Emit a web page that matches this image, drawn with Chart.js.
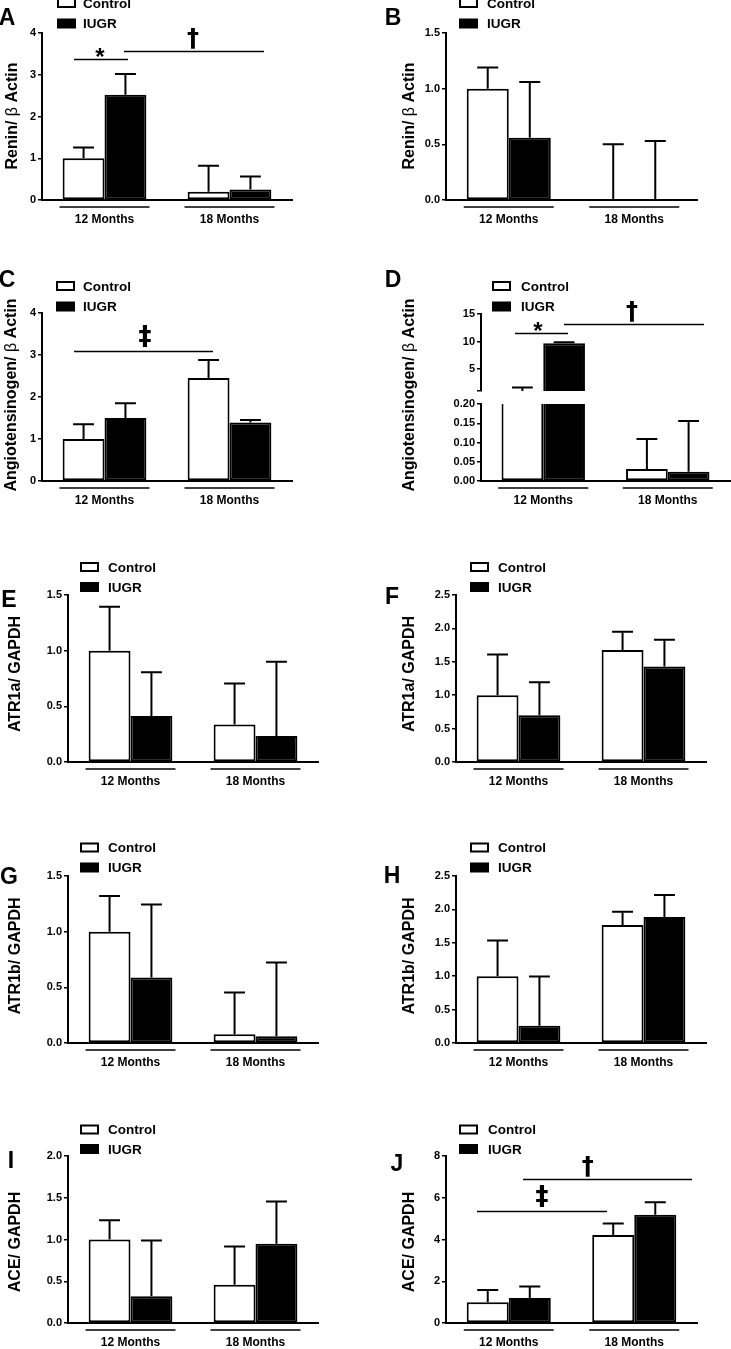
<!DOCTYPE html>
<html>
<head>
<meta charset="utf-8">
<script src="https://cdn.jsdelivr.net/npm/chart.js@4.4.1/dist/chart.umd.min.js"></script>
<style>
  html, body { margin: 0; padding: 0; background: #fff; }
  #page { position: relative; width: 731px; height: 1349px; overflow: hidden; background: #fff; }
  #page canvas { position: absolute; left: 0; top: 0; }
</style>
</head>
<body>
<div id="page"></div>
<script>
const months = ['12 Months', '18 Months'];
const series = ['Control', 'IUGR'];

// A - renin / beta actin (left)
const aControl = [1.0, 0.2];
const aControlSem = [0.26, 0.62];
const aIugr = [2.52, 0.25];
const aIugrSem = [0.5, 0.31];
const aTicks = ['0', '1', '2', '3', '4'];

// B - renin / beta actin (right)
const bControl = [1.0, 0.01];
const bControlSem = [0.19, 0.49];
const bIugr = [0.56, 0.01];
const bIugrSem = [0.5, 0.52];
const bTicks = ['0.0', '0.5', '1.0', '1.5'];

// C - angiotensinogen (left)
const cControl = [1.0, 2.45];
const cControlSem = [0.35, 0.43];
const cIugr = [1.5, 1.39];
const cIugrSem = [0.35, 0.06];
const cTicks = ['0', '1', '2', '3', '4'];

// D - angiotensinogen (right), broken axis
const dControl = [1.0, 0.031];
const dControlSem = [0.65, 0.078];
const dIugr = [9.7, 0.024];
const dIugrSem = [0.15, 0.132];
const dTopTicks = ['5', '10', '15'];
const dLowTicks = ['0.00', '0.05', '0.10', '0.15', '0.20'];

// E - ATR1a (left)
const eControl = [1.0, 0.336];
const eControlSem = [0.395, 0.37];
const eIugr = [0.414, 0.234];
const eIugrSem = [0.393, 0.666];
const eTicks = ['0.0', '0.5', '1.0', '1.5'];

// F - ATR1a (right)
const fControl = [1.0, 1.675];
const fControlSem = [0.61, 0.275];
const fIugr = [0.70, 1.43];
const fIugrSem = [0.495, 0.40];
const fTicks = ['0.0', '0.5', '1.0', '1.5', '2.0', '2.5'];

// G - ATR1b (left)
const gControl = [1.0, 0.078];
const gControlSem = [0.32, 0.375];
const gIugr = [0.588, 0.06];
const gIugrSem = [0.657, 0.663];
const gTicks = ['0.0', '0.5', '1.0', '1.5'];

// H - ATR1b (right)
const hControl = [1.0, 1.765];
const hControlSem = [0.535, 0.2];
const hIugr = [0.26, 1.885];
const hIugrSem = [0.735, 0.33];
const hTicks = ['0.0', '0.5', '1.0', '1.5', '2.0', '2.5'];

// I - ACE (left)
const iControl = [1.0, 0.458];
const iControlSem = [0.231, 0.458];
const iIugr = [0.319, 0.948];
const iIugrSem = [0.669, 0.506];
const iTicks = ['0.0', '0.5', '1.0', '1.5', '2.0'];

// J - ACE (right)
const jControl = [1.0, 4.22];
const jControlSem = [0.58, 0.545];
const jIugr = [1.195, 5.18];
const jIugrSem = [0.555, 0.605];
const jTicks = ['0', '2', '4', '6', '8'];

const W = 731, H = 1349;
const AXIS_W = 36; // room kept left of each y axis for its tick labels
const FONT = '"Liberation Sans", Arial, sans-serif';
Chart.defaults.font.family = FONT;
Chart.defaults.color = '#000';

function centerText(ctx, text, cx, cy) {
  ctx.textAlign = 'center';
  ctx.textBaseline = 'alphabetic';
  const m = ctx.measureText(text);
  ctx.fillText(text, cx, cy + (m.actualBoundingBoxAscent - m.actualBoundingBoxDescent) / 2);
}

function drawTitle(ctx, title, cx, cy) {
  const parts = title.split(/(β)/).filter(Boolean);
  const font = t => (t === 'β' ? '' : 'bold ') + '16px ' + FONT;
  ctx.save();
  ctx.translate(cx, cy);
  ctx.rotate(-Math.PI / 2);
  ctx.textAlign = 'left';
  ctx.textBaseline = 'middle';
  const widths = parts.map(t => { ctx.font = font(t); return ctx.measureText(t).width; });
  let pos = -widths.reduce((s, w) => s + w, 0) / 2;
  parts.forEach((t, i) => {
    ctx.font = font(t);
    ctx.fillText(t, pos, 0);
    pos += widths[i];
  });
  ctx.restore();
}

// significance marks: font, lift above their line
const symbolFont = {
  '*': 'bold 24px ' + FONT,
  '†': 'bold 24px "DejaVu Sans", sans-serif',
  '‡': 'bold 26px "DejaVu Sans", sans-serif'
};
const symbolLift = { '*': 7, '†': 13, '‡': 15 };

// error bars, upper side only
const errorBars = {
  id: 'errorBars',
  afterDatasetsDraw(chart) {
    const { ctx, chartArea: a, scales: { y } } = chart;
    ctx.save();
    ctx.beginPath();
    ctx.rect(a.left - 2, a.top - 1.5, a.right - a.left + 4, a.bottom - a.top + 1.5);
    ctx.clip();
    ctx.strokeStyle = '#000';
    ctx.lineWidth = 2;
    chart.data.datasets.forEach((ds, i) => {
      chart.getDatasetMeta(i).data.forEach((bar, j) => {
        const base = y.getPixelForValue(ds.data[j]);
        const top = y.getPixelForValue(ds.data[j] + ds.sem[j]);
        const half = bar.width / 4;
        ctx.beginPath();
        ctx.moveTo(bar.x, base);
        ctx.lineTo(bar.x, top);
        ctx.moveTo(bar.x - half, top);
        ctx.lineTo(bar.x + half, top);
        ctx.stroke();
      });
    });
    ctx.restore();
  }
};

function makeExtras(spec) {
  return {
    id: 'extras',
    afterDraw(chart) {
      const { ctx, chartArea: a, scales: { x, y } } = chart;
      const x0 = x.getPixelForValue(0);
      const cat = x.getPixelForValue(1) - x0;
      ctx.save();
      ctx.fillStyle = '#000';
      ctx.strokeStyle = '#000';

      if (spec.letter) {
        ctx.font = 'bold 23px ' + FONT;
        centerText(ctx, spec.letter, spec.letterAt[0], spec.letterAt[1]);
      }
      if (spec.title) drawTitle(ctx, spec.title, spec.titleAt[0], spec.titleAt[1]);

      if (spec.legend) {
        const [bx, tx, y1, y2] = spec.legend;
        ctx.lineWidth = 2;
        ctx.strokeRect(bx + 1, y1 - 4, 17, 8);
        ctx.fillRect(bx, y2 - 5, 19, 10);
        ctx.font = 'bold 13.5px ' + FONT;
        ctx.textAlign = 'left';
        ctx.textBaseline = 'middle';
        ctx.fillText(series[0], tx, y1 + 1);
        ctx.fillText(series[1], tx, y2 + 1);
      }

      if (spec.groups) {
        ctx.lineWidth = 1.3;
        ctx.font = 'bold 12px ' + FONT;
        months.forEach((m, i) => {
          const cx = x.getPixelForValue(i);
          ctx.beginPath();
          ctx.moveTo(cx - 45, a.bottom + 7);
          ctx.lineTo(cx + 45, a.bottom + 7);
          ctx.stroke();
          centerText(ctx, m, cx, a.bottom + 18);
        });
      }

      (spec.sig || []).forEach(s => {
        const ly = Math.round(y.getPixelForValue(s.y)) + 0.5;
        ctx.lineWidth = 1.3;
        ctx.beginPath();
        ctx.moveTo(x0 + s.from * cat, ly);
        ctx.lineTo(x0 + s.to * cat, ly);
        ctx.stroke();
        ctx.font = symbolFont[s.sym];
        centerText(ctx, s.sym, x0 + s.at * cat, ly - symbolLift[s.sym]);
      });
      ctx.restore();
    }
  };
}

function makeChart(spec) {
  const canvas = document.createElement('canvas');
  canvas.width = W;
  canvas.height = H;
  canvas.style.width = W + 'px';
  canvas.style.height = H + 'px';
  document.getElementById('page').appendChild(canvas);

  const [top, bottom, left, right] = spec.area;
  const values = spec.ticks.map(Number);
  const min = spec.min !== undefined ? spec.min : values[0];
  const max = values[values.length - 1];
  const items = (values[0] > min ? [{ value: min, label: '' }] : [])
    .concat(spec.ticks.map(t => ({ value: Number(t), label: t })));

  const barStyle = { borderColor: '#000', borderWidth: 2, borderSkipped: false };
  if (spec.clip) barStyle.clip = 0;

  return new Chart(canvas, {
    type: 'bar',
    data: {
      labels: months,
      datasets: [
        Object.assign({ label: series[0], data: spec.data[0], sem: spec.data[1], backgroundColor: '#fff' }, barStyle),
        Object.assign({ label: series[1], data: spec.data[2], sem: spec.data[3], backgroundColor: '#000' }, barStyle)
      ]
    },
    options: {
      responsive: false,
      animation: false,
      devicePixelRatio: 1,
      layout: { padding: { left: left - AXIS_W, top: top, right: W - right, bottom: H - bottom } },
      datasets: { bar: { categoryPercentage: 0.67, barPercentage: 1 } },
      plugins: { legend: { display: false }, tooltip: { enabled: false } },
      scales: {
        x: {
          offset: true,
          grid: { display: false },
          ticks: { display: false },
          border: { display: spec.xAxis !== false, color: '#000', width: 2 },
          afterFit: s => { s.height = 0; }
        },
        y: {
          min: min,
          max: max,
          grid: { display: true, drawOnChartArea: false, drawTicks: true, tickLength: 4, color: '#000', lineWidth: 1.5 },
          border: { display: true, color: '#000', width: 2 },
          ticks: {
            color: '#000',
            padding: 2,
            font: { size: 11, weight: 'bold' },
            callback: (v, i) => items[i] ? items[i].label : ''
          },
          afterBuildTicks: s => { s.ticks = items.map(t => ({ value: t.value })); },
          afterFit: s => { s.width = AXIS_W; }
        }
      }
    },
    plugins: [errorBars, makeExtras(spec)]
  });
}

const panels = [
  {
    letter: 'A', letterAt: [7, 16], title: 'Renin/ β Actin', titleAt: [13, 116],
    legend: [57, 83, 3, 23.5], area: [33, 200, 42, 292], ticks: aTicks, groups: true,
    data: [aControl, aControlSem, aIugr, aIugrSem],
    sig: [
      { from: -0.244, to: 0.188, y: 3.38, sym: '*', at: -0.036 },
      { from: 0.156, to: 1.276, y: 3.57, sym: '†', at: 0.708 }
    ]
  },
  {
    letter: 'B', letterAt: [393, 16], title: 'Renin/ β Actin', titleAt: [410, 116],
    legend: [459, 487, 3, 23.5], area: [33, 200, 446, 697], ticks: bTicks, groups: true,
    data: [bControl, bControlSem, bIugr, bIugrSem]
  },
  {
    letter: 'C', letterAt: [7, 278], title: 'Angiotensinogen/ β Actin', titleAt: [12, 395],
    legend: [56, 83, 286, 306.5], area: [313, 481, 42, 292], ticks: cTicks, groups: true,
    data: [cControl, cControlSem, cIugr, cIugrSem],
    sig: [{ from: -0.244, to: 0.868, y: 3.10, sym: '‡', at: 0.324 }]
  },
  {
    area: [314, 391, 481, 730], ticks: dTopTicks, min: 1, xAxis: false, clip: true,
    data: [dControl, dControlSem, dIugr, dIugrSem],
    sig: [
      { from: -0.227, to: 0.199, y: 11.55, sym: '*', at: -0.042 },
      { from: 0.167, to: 1.291, y: 13.18, sym: '†', at: 0.713 }
    ]
  },
  {
    letter: 'D', letterAt: [393, 278], title: 'Angiotensinogen/ β Actin', titleAt: [410, 395],
    legend: [492, 521, 286, 306.5], area: [404, 481, 481, 730], ticks: dLowTicks, groups: true, clip: true,
    data: [dControl, dControlSem, dIugr, dIugrSem]
  },
  {
    letter: 'E', letterAt: [9, 598], title: 'ATR1a/ GAPDH', titleAt: [16, 674],
    legend: [80, 108, 567, 587], area: [595, 762, 68, 318], ticks: eTicks, groups: true,
    data: [eControl, eControlSem, eIugr, eIugrSem]
  },
  {
    letter: 'F', letterAt: [392, 595], title: 'ATR1a/ GAPDH', titleAt: [410, 674],
    legend: [470, 498, 567, 587], area: [595, 762, 456, 706], ticks: fTicks, groups: true,
    data: [fControl, fControlSem, fIugr, fIugrSem]
  },
  {
    letter: 'G', letterAt: [9, 875], title: 'ATR1b/ GAPDH', titleAt: [16, 956],
    legend: [80, 108, 847.5, 867.5], area: [876, 1043, 68, 318], ticks: gTicks, groups: true,
    data: [gControl, gControlSem, gIugr, gIugrSem]
  },
  {
    letter: 'H', letterAt: [392, 874], title: 'ATR1b/ GAPDH', titleAt: [410, 956],
    legend: [470, 498, 847.5, 867.5], area: [876, 1043, 456, 706], ticks: hTicks, groups: true,
    data: [hControl, hControlSem, hIugr, hIugrSem]
  },
  {
    letter: 'I', letterAt: [11, 1159], title: 'ACE/ GAPDH', titleAt: [16, 1242],
    legend: [80, 108, 1129.5, 1149], area: [1156, 1323, 68, 318], ticks: iTicks, groups: true,
    data: [iControl, iControlSem, iIugr, iIugrSem]
  },
  {
    letter: 'J', letterAt: [397, 1162], title: 'ACE/ GAPDH', titleAt: [410, 1242],
    legend: [459, 488, 1129.5, 1149], area: [1156, 1323, 446, 697], ticks: jTicks, groups: true,
    data: [jControl, jControlSem, jIugr, jIugrSem],
    sig: [
      { from: 0.114, to: 1.46, y: 6.90, sym: '†', at: 0.63 },
      { from: -0.253, to: 0.783, y: 5.37, sym: '‡', at: 0.265 }
    ]
  }
];

panels.forEach(makeChart);
</script>
</body>
</html>
